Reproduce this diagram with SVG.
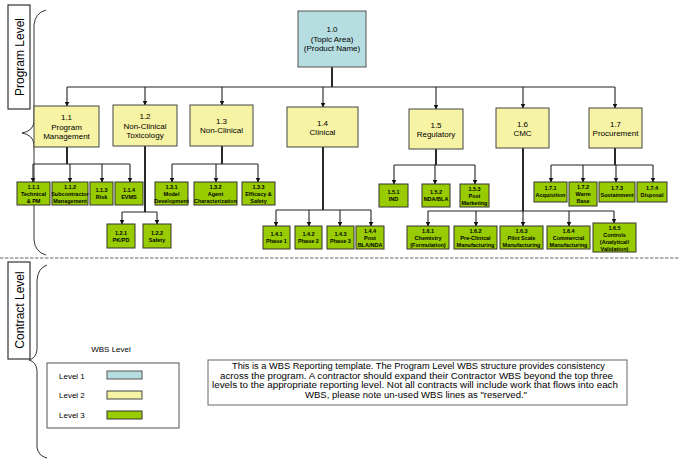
<svg xmlns="http://www.w3.org/2000/svg" width="680" height="469" viewBox="0 0 680 469">
<style>
text{font-family:"Liberation Sans",Arial,sans-serif;fill:#000;text-anchor:middle}
.l1{fill:#b6dde0;stroke:#555;stroke-width:1}
.l2{fill:#f7f3a5;stroke:#444;stroke-width:1}
.l3{fill:#99cc00;stroke:#333;stroke-width:1}
.t2{font-size:8px}
.t3{font-size:5.5px;font-weight:bold}
.side{font-size:12px}
.nt{font-size:8.3px}
.cn{stroke:#222;stroke-width:1.1;fill:none}
.tr{stroke:#111;stroke-width:1.8;fill:none}
.ar{stroke:#222;stroke-width:1.1;fill:none;marker-end:url(#ah)}
.br{stroke:#333;stroke-width:1;fill:none}
</style>
<defs>
<marker id="ah" markerUnits="userSpaceOnUse" markerWidth="5" markerHeight="5" refX="4.5" refY="2.5" orient="auto">
<path d="M0,0 L5,2.5 L0,5 z" fill="#111"/>
</marker>
</defs>
<rect width="680" height="469" fill="#fff"/>

<g id="side-labels">
<rect x="8" y="5" width="22" height="104" fill="#fff" stroke="#333" stroke-width="1.2"/>
<text class="side" transform="translate(23.5,57) rotate(-90)">Program Level</text>
<rect x="8" y="262" width="22" height="97" fill="#fff" stroke="#333" stroke-width="1.2"/>
<text class="side" transform="translate(23.5,310) rotate(-90)">Contract Level</text>
<path class="br" d="M46,10 Q35,13 34,25 L34,122 Q33,131 22,133 Q33,135 34,144 L34,240 Q35,252 46,255"/>
<path class="br" d="M47,265 Q38,268 37,280 L37,350 Q36,358 29,360 Q36,362 37,370 L37,447 Q38,456 47,458"/>
<line x1="0" y1="258" x2="680" y2="258" stroke="#999" stroke-width="1.3" stroke-dasharray="3.5 1.5"/>
</g>

<g id="connectors">
<line class="tr" x1="332" y1="67" x2="332" y2="87"/>
<line class="cn" x1="67" y1="87" x2="615" y2="87"/>
<line class="ar" x1="67" y1="87" x2="67" y2="106"/>
<line class="ar" x1="145" y1="87" x2="145" y2="105"/>
<line class="ar" x1="222" y1="87" x2="222" y2="105"/>
<line class="ar" x1="323" y1="87" x2="323" y2="107"/>
<line class="ar" x1="436" y1="87" x2="436" y2="109"/>
<line class="ar" x1="523" y1="87" x2="523" y2="108"/>
<line class="ar" x1="615" y1="87" x2="615" y2="108"/>

<line class="tr" x1="67" y1="147" x2="67" y2="164"/>
<line class="cn" x1="33" y1="164" x2="130" y2="164"/>
<line class="ar" x1="33" y1="164" x2="33" y2="182"/>
<line class="ar" x1="70" y1="164" x2="70" y2="182"/>
<line class="ar" x1="102" y1="164" x2="102" y2="182"/>
<line class="ar" x1="130" y1="164" x2="130" y2="182"/>

<line class="tr" x1="145" y1="146" x2="145" y2="212"/>
<line class="cn" x1="122" y1="212" x2="157" y2="212"/>
<line class="ar" x1="122" y1="212" x2="122" y2="224"/>
<line class="ar" x1="157" y1="212" x2="157" y2="224"/>

<line class="tr" x1="222" y1="146" x2="222" y2="164"/>
<line class="cn" x1="172" y1="164" x2="258" y2="164"/>
<line class="ar" x1="172" y1="164" x2="172" y2="182"/>
<line class="ar" x1="216" y1="164" x2="216" y2="182"/>
<line class="ar" x1="258" y1="164" x2="258" y2="182"/>

<line class="tr" x1="323" y1="147" x2="323" y2="210"/>
<line class="cn" x1="276" y1="210" x2="371" y2="210"/>
<line class="ar" x1="276" y1="210" x2="276" y2="226"/>
<line class="ar" x1="309" y1="210" x2="309" y2="226"/>
<line class="ar" x1="340" y1="210" x2="340" y2="226"/>
<line class="ar" x1="371" y1="210" x2="371" y2="226"/>

<line class="tr" x1="436" y1="149" x2="436" y2="165"/>
<line class="cn" x1="394" y1="165" x2="475" y2="165"/>
<line class="ar" x1="394" y1="165" x2="394" y2="184"/>
<line class="ar" x1="435" y1="165" x2="435" y2="184"/>
<line class="ar" x1="475" y1="165" x2="475" y2="184"/>

<line class="tr" x1="523" y1="148" x2="523" y2="211"/>
<line class="cn" x1="428" y1="211" x2="614" y2="211"/>
<line class="ar" x1="428" y1="211" x2="428" y2="226"/>
<line class="ar" x1="476" y1="211" x2="476" y2="226"/>
<line class="ar" x1="523" y1="211" x2="523" y2="226"/>
<line class="ar" x1="569" y1="211" x2="569" y2="226"/>
<line class="ar" x1="614" y1="211" x2="614" y2="223"/>

<line class="tr" x1="615" y1="148" x2="615" y2="165"/>
<line class="cn" x1="551" y1="165" x2="653" y2="165"/>
<line class="ar" x1="551" y1="165" x2="551" y2="182"/>
<line class="ar" x1="583" y1="165" x2="583" y2="182"/>
<line class="ar" x1="616" y1="165" x2="616" y2="182"/>
<line class="ar" x1="653" y1="165" x2="653" y2="182"/>
</g>

<g id="n1-0"><rect class="l1" x="298" y="11" width="68" height="56"/>
<text class="t2" x="332" y="32">1.0</text><text class="t2" x="332" y="41.5">(Topic Area)</text><text class="t2" x="332" y="51">(Product Name)</text></g>

<g id="n1-1"><rect class="l2" x="34" y="106" width="65" height="41"/>
<text class="t2" x="66.5" y="120">1.1</text><text class="t2" x="66.5" y="129.5">Program</text><text class="t2" x="66.5" y="139">Management</text></g>
<g id="n1-2"><rect class="l2" x="113" y="105" width="64" height="41"/>
<text class="t2" x="145" y="119">1.2</text><text class="t2" x="145" y="128.5">Non-Clinical</text><text class="t2" x="145" y="138">Toxicology</text></g>
<g id="n1-3"><rect class="l2" x="190" y="105" width="63" height="41"/>
<text class="t2" x="221.5" y="124">1.3</text><text class="t2" x="221.5" y="133">Non-Clinical</text></g>
<g id="n1-4"><rect class="l2" x="287" y="107" width="71" height="40"/>
<text class="t2" x="322.5" y="126">1.4</text><text class="t2" x="322.5" y="135">Clinical</text></g>
<g id="n1-5"><rect class="l2" x="409" y="109" width="54" height="40"/>
<text class="t2" x="436" y="128">1.5</text><text class="t2" x="436" y="137">Regulatory</text></g>
<g id="n1-6"><rect class="l2" x="496" y="108" width="53" height="40"/>
<text class="t2" x="522.5" y="127">1.6</text><text class="t2" x="522.5" y="136">CMC</text></g>
<g id="n1-7"><rect class="l2" x="589" y="108" width="53" height="40"/>
<text class="t2" x="615.5" y="127">1.7</text><text class="t2" x="615.5" y="136">Procurement</text></g>

<g id="n1-1-1"><rect class="l3" x="17" y="182" width="33" height="23"/>
<text class="t3" x="33.5" y="189">1.1.1</text><text class="t3" x="33.5" y="196">Technical</text><text class="t3" x="33.5" y="203">&amp; PM</text></g>
<g id="n1-1-2"><rect class="l3" x="52" y="182" width="36" height="23"/>
<text class="t3" x="70" y="189">1.1.2</text><text class="t3" x="70" y="196">Subcontractor</text><text class="t3" x="70" y="203">Management</text></g>
<g id="n1-1-3"><rect class="l3" x="90" y="182" width="23" height="23"/>
<text class="t3" x="101.5" y="192">1.1.3</text><text class="t3" x="101.5" y="199">Risk</text></g>
<g id="n1-1-4"><rect class="l3" x="115" y="182" width="28" height="23"/>
<text class="t3" x="129" y="192">1.1.4</text><text class="t3" x="129" y="199">EVMS</text></g>

<g id="n1-2-1"><rect class="l3" x="107" y="224" width="28" height="24"/>
<text class="t3" x="121" y="235">1.2.1</text><text class="t3" x="121" y="242">PK/PD</text></g>
<g id="n1-2-2"><rect class="l3" x="143" y="224" width="28" height="24"/>
<text class="t3" x="157" y="235">1.2.2</text><text class="t3" x="157" y="242">Safety</text></g>

<g id="n1-3-1"><rect class="l3" x="155" y="182" width="33" height="23"/>
<text class="t3" x="171.5" y="189">1.3.1</text><text class="t3" x="171.5" y="196">Model</text><text class="t3" x="171.5" y="203">Development</text></g>
<g id="n1-3-2"><rect class="l3" x="194" y="182" width="43" height="23"/>
<text class="t3" x="215.5" y="189">1.3.2</text><text class="t3" x="215.5" y="196">Agent</text><text class="t3" x="215.5" y="203">Characterization</text></g>
<g id="n1-3-3"><rect class="l3" x="242" y="182" width="33" height="23"/>
<text class="t3" x="258.5" y="189">1.3.3</text><text class="t3" x="258.5" y="196">Efficacy &amp;</text><text class="t3" x="258.5" y="203">Safety</text></g>

<g id="n1-4-1"><rect class="l3" x="263" y="226" width="27" height="23"/>
<text class="t3" x="276.5" y="236">1.4.1</text><text class="t3" x="276.5" y="243">Phase 1</text></g>
<g id="n1-4-2"><rect class="l3" x="295" y="226" width="27" height="23"/>
<text class="t3" x="308.5" y="236">1.4.2</text><text class="t3" x="308.5" y="243">Phase 2</text></g>
<g id="n1-4-3"><rect class="l3" x="327" y="226" width="27" height="23"/>
<text class="t3" x="340.5" y="236">1.4.3</text><text class="t3" x="340.5" y="243">Phase 3</text></g>
<g id="n1-4-4"><rect class="l3" x="356" y="226" width="28" height="23"/>
<text class="t3" x="370" y="233">1.4.4</text><text class="t3" x="370" y="240">Post</text><text class="t3" x="370" y="247">BLA/NDA</text></g>

<g id="n1-5-1"><rect class="l3" x="379" y="184" width="29" height="23"/>
<text class="t3" x="393.5" y="194">1.5.1</text><text class="t3" x="393.5" y="201">IND</text></g>
<g id="n1-5-2"><rect class="l3" x="422" y="184" width="28" height="23"/>
<text class="t3" x="436" y="194">1.5.2</text><text class="t3" x="436" y="201">NDA/BLA</text></g>
<g id="n1-5-3"><rect class="l3" x="460" y="184" width="29" height="23"/>
<text class="t3" x="474.5" y="191">1.5.3</text><text class="t3" x="474.5" y="198">Post</text><text class="t3" x="474.5" y="205">Marketing</text></g>

<g id="n1-6-1"><rect class="l3" x="407" y="226" width="42" height="23"/>
<text class="t3" x="428" y="233">1.6.1</text><text class="t3" x="428" y="240">Chemistry</text><text class="t3" x="428" y="247">(Formulation)</text></g>
<g id="n1-6-2"><rect class="l3" x="454" y="226" width="43" height="23"/>
<text class="t3" x="475.5" y="233">1.6.2</text><text class="t3" x="475.5" y="240">Pre-Clinical</text><text class="t3" x="475.5" y="247">Manufacturing</text></g>
<g id="n1-6-3"><rect class="l3" x="500" y="226" width="43" height="23"/>
<text class="t3" x="521.5" y="233">1.6.3</text><text class="t3" x="521.5" y="240">Pilot Scale</text><text class="t3" x="521.5" y="247">Manufacturing</text></g>
<g id="n1-6-4"><rect class="l3" x="547" y="226" width="43" height="23"/>
<text class="t3" x="568.5" y="233">1.6.4</text><text class="t3" x="568.5" y="240">Commercial</text><text class="t3" x="568.5" y="247">Manufacturing</text></g>
<g id="n1-6-5"><rect class="l3" x="593" y="223" width="43" height="29"/>
<text class="t3" x="614.5" y="229.5">1.6.5</text><text class="t3" x="614.5" y="236.5">Controls</text><text class="t3" x="614.5" y="243.5">(Analytical/</text><text class="t3" x="614.5" y="250.5">Validation)</text></g>

<g id="n1-7-1"><rect class="l3" x="534" y="182" width="33" height="20"/>
<text class="t3" x="550.5" y="190">1.7.1</text><text class="t3" x="550.5" y="197">Acquisition</text></g>
<g id="n1-7-2"><rect class="l3" x="569" y="182" width="28" height="24"/>
<text class="t3" x="583" y="189">1.7.2</text><text class="t3" x="583" y="196">Warm</text><text class="t3" x="583" y="203">Base</text></g>
<g id="n1-7-3"><rect class="l3" x="599" y="182" width="36" height="20"/>
<text class="t3" x="617" y="190">1.7.3</text><text class="t3" x="617" y="197">Sustainment</text></g>
<g id="n1-7-4"><rect class="l3" x="637" y="182" width="30" height="20"/>
<text class="t3" x="652" y="190">1.7.4</text><text class="t3" x="652" y="197">Disposal</text></g>

<g id="legend">
<text x="111" y="352" style="font-size:8px">WBS Level</text>
<rect x="47" y="363" width="132" height="65" fill="#fff" stroke="#555" stroke-width="1"/>
<text x="59" y="379" style="font-size:8px;text-anchor:start">Level 1</text>
<text x="59" y="398" style="font-size:8px;text-anchor:start">Level 2</text>
<text x="59" y="418" style="font-size:8px;text-anchor:start">Level 3</text>
<rect class="l1" x="107" y="371" width="35" height="8"/>
<rect class="l2" x="107" y="391" width="35" height="8"/>
<rect class="l3" x="107" y="411" width="35" height="8"/>
</g>

<g id="note">
<rect x="208" y="360" width="419" height="45" fill="#fff" stroke="#666" stroke-width="1"/>
<text class="nt" x="418.5" y="369" textLength="373" lengthAdjust="spacingAndGlyphs">This is a WBS Reporting template. The Program Level WBS structure provides consistency</text>
<text class="nt" x="416.5" y="378.6" textLength="393" lengthAdjust="spacingAndGlyphs">across the program. A contractor should expand their Contractor WBS beyond the top three</text>
<text class="nt" x="415" y="388.2" textLength="406" lengthAdjust="spacingAndGlyphs">levels to the appropriate reporting level. Not all contracts will include work that flows into each</text>
<text class="nt" x="416" y="397.8" textLength="222" lengthAdjust="spacingAndGlyphs">WBS, please note un-used WBS lines as "reserved."</text>
</g>
</svg>
